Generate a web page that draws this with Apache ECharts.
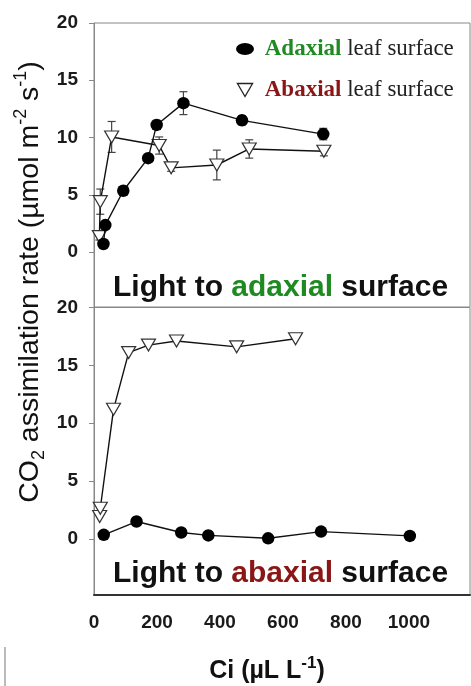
<!DOCTYPE html>
<html>
<head>
<meta charset="utf-8">
<script src="https://cdn.jsdelivr.net/npm/echarts@6/dist/echarts.min.js"></script>
<style>
html,body{margin:0;padding:0;background:#fff;}
#chart{width:471px;height:686px;}
</style>
</head>
<body>
<div id="chart"></div>
<script>
// ---- Data ----
// Top panel: light to adaxial surface
const topAdCi  = [30, 36, 93, 172, 199, 284, 470, 728];
const topAdA   = [0.7, 2.35, 5.35, 8.2, 11.1, 13.0, 11.5, 10.3];
const topAdErr = [0.3, 0.3, 0.3, 0.3, 0.4, 1.0, 0.4, 0.5];

const topAbCi  = [17, 20, 56, 207, 245, 390, 493, 730];
const topAbA   = [1.35, 4.4, 10.05, 9.3, 7.35, 7.6, 9.0, 8.8];
const topAbErr = [0.3, 1.1, 1.35, 0.75, 0.3, 1.3, 0.8, 0.4];

// Bottom panel: light to abaxial surface
const botAbCi = [18, 20, 62, 110, 173, 262, 453, 640];
const botAbA  = [1.93, 2.65, 11.2, 16.1, 16.75, 17.1, 16.6, 17.3];

const botAdCi = [31, 135, 277, 363, 553, 721, 1003];
const botAdA  = [0.35, 1.5, 0.55, 0.3, 0.05, 0.63, 0.26];

const yTicks = [0, 5, 10, 15, 20];
const xTicks = [0, 200, 400, 600, 800, 1000];

const nameAd = 'Adaxial leaf surface';
const nameAb = 'Abaxial leaf surface';

// ---- helpers ----
const zip2 = (a, b) => a.map((v, i) => [v, b[i]]);
const zip3 = (a, b, c) => a.map((v, i) => [v, b[i], c[i]]);

const SANS = 'Liberation Sans, Arial, sans-serif';
const SERIF = 'Liberation Serif, Times New Roman, serif';
const GREEN = '#1f8a22';
const RED = '#8a1616';

function errRender(params, api) {
  const x = api.value(0), y = api.value(1), e = api.value(2);
  const t = api.coord([x, y + e]);
  const b = api.coord([x, y - e]);
  const w = 4;
  const st = { stroke: '#444', lineWidth: 1.2 };
  return {
    type: 'group',
    children: [
      { type: 'line', shape: { x1: t[0], y1: t[1], x2: b[0], y2: b[1] }, style: st },
      { type: 'line', shape: { x1: t[0] - w, y1: t[1], x2: t[0] + w, y2: t[1] }, style: st },
      { type: 'line', shape: { x1: b[0] - w, y1: b[1], x2: b[0] + w, y2: b[1] }, style: st }
    ]
  };
}

const yAxisBase = (gi, min) => ({
  type: 'value', gridIndex: gi, min: min, max: 20,
  axisLine: { show: true, onZero: false, lineStyle: { color: '#888', width: 1 } },
  axisTick: { show: true, inside: false, length: 5, customValues: yTicks, lineStyle: { color: '#888' } },
  axisLabel: { customValues: yTicks, margin: 16, color: '#1a1a1a', fontFamily: SANS, fontWeight: 'bold', fontSize: 19 },
  splitLine: { show: false }
});

const adStyle = {
  symbol: 'circle', symbolSize: 12.5,
  itemStyle: { color: '#000' },
  lineStyle: { color: '#111', width: 1.4 }
};
const abStyle = {
  symbol: 'triangle', symbolRotate: 180, symbolSize: [14, 12],
  itemStyle: { color: '#fff', borderColor: '#333', borderWidth: 1.2 },
  lineStyle: { color: '#111', width: 1.4 }
};

const option = {
  animation: false,
  backgroundColor: '#fff',
  grid: [
    { left: 94, right: 1, top: 23, height: 284, show: true, borderColor: '#888', borderWidth: 1, backgroundColor: 'transparent' },
    { left: 94, right: 1, top: 307.5, height: 287.5, show: true, borderColor: '#888', borderWidth: 1, backgroundColor: 'transparent' }
  ],
  xAxis: [
    { type: 'value', gridIndex: 0, min: 0, max: 1194, show: false, axisLine: { onZero: false } },
    { type: 'value', gridIndex: 1, min: 0, max: 1194,
      axisLine: { show: true, onZero: false, lineStyle: { color: '#333', width: 2 } },
      axisTick: { show: false },
      axisLabel: { customValues: xTicks, margin: 18, color: '#1a1a1a', fontFamily: SANS, fontWeight: 'bold', fontSize: 19,
        formatter: v => String(v) },
      splitLine: { show: false } }
  ],
  yAxis: [ yAxisBase(0, -4.8), yAxisBase(1, -4.85) ],
  legend: {
    left: 236, top: 36, orient: 'vertical', padding: 0, itemGap: 15,
    itemWidth: 18, itemHeight: 13,
    selectedMode: false,
    data: [
      { name: nameAd, icon: 'path://M0,6a9,6 0 1,0 18,0a9,6 0 1,0 -18,0Z', itemStyle: { color: '#000', borderWidth: 0 } },
      { name: nameAb, icon: 'path://M0,0L14,0L7,12Z', itemStyle: { color: '#fff', borderColor: '#222', borderWidth: 1.3 } }
    ],
    formatter: n => n === nameAd ? ' {g|Adaxial} leaf surface' : ' {r|Abaxial} leaf surface',
    textStyle: {
      fontFamily: SERIF, fontSize: 23, color: '#222', lineHeight: 26,
      rich: {
        g: { fontFamily: SERIF, fontSize: 23, fontWeight: 'bold', color: GREEN, lineHeight: 26 },
        r: { fontFamily: SERIF, fontSize: 23, fontWeight: 'bold', color: RED, lineHeight: 26 }
      }
    }
  },
  series: [
    { name: 'errAd', type: 'custom', xAxisIndex: 0, yAxisIndex: 0, renderItem: errRender, encode: { x: 0, y: 1 }, data: zip3(topAdCi, topAdA, topAdErr), z: 2 },
    { name: 'errAb', type: 'custom', xAxisIndex: 0, yAxisIndex: 0, renderItem: errRender, encode: { x: 0, y: 1 }, data: zip3(topAbCi, topAbA, topAbErr), z: 2 },
    Object.assign({ name: nameAb, type: 'line', xAxisIndex: 0, yAxisIndex: 0, data: zip2(topAbCi, topAbA), z: 3 }, abStyle),
    Object.assign({ name: nameAd, type: 'line', xAxisIndex: 0, yAxisIndex: 0, data: zip2(topAdCi, topAdA), z: 4 }, adStyle),
    Object.assign({ name: nameAb, type: 'line', xAxisIndex: 1, yAxisIndex: 1, data: zip2(botAbCi, botAbA), z: 3 }, abStyle),
    Object.assign({ name: nameAd, type: 'line', xAxisIndex: 1, yAxisIndex: 1, data: zip2(botAdCi, botAdA), z: 4 }, adStyle)
  ],
  graphic: [
    { type: 'text', left: 113, top: 273, z: 10,
      style: { text: 'Light to {g|adaxial} surface', font: 'bold 30px ' + SANS, fill: '#111',
        rich: { g: { fill: GREEN, font: 'bold 30px ' + SANS } } } },
    { type: 'text', left: 113, top: 559, z: 10,
      style: { text: 'Light to {r|abaxial} surface', font: 'bold 30px ' + SANS, fill: '#111',
        rich: { r: { fill: RED, font: 'bold 30px ' + SANS } } } },
    { type: 'text', x: 30, y: 282, rotation: Math.PI / 2, z: 10,
      style: { text: 'CO{sub|2} assimilation rate (\u00b5mol m{sup|-2} s{sup|-1})',
        font: '28.5px ' + SANS, fill: '#111', align: 'center', verticalAlign: 'middle', lineHeight: 36,
        rich: {
          sub: { font: '18px ' + SANS, verticalAlign: 'bottom', lineHeight: 36, fill: '#111' },
          sup: { font: '18px ' + SANS, verticalAlign: 'top', lineHeight: 36, fill: '#111' }
        } } },
    { type: 'text', x: 267, y: 671, z: 10,
      style: { text: 'Ci (\u00b5L L{sup|-1})', font: 'bold 25px ' + SANS, fill: '#111', align: 'center', verticalAlign: 'middle', lineHeight: 32,
        rich: { sup: { font: 'bold 17px ' + SANS, verticalAlign: 'top', lineHeight: 32, fill: '#111' } } } },
    { type: 'line', shape: { x1: 5, y1: 647, x2: 5, y2: 686 }, style: { stroke: '#777', lineWidth: 1 } }
  ]
};

const chart = echarts.init(document.getElementById('chart'), null, { renderer: 'canvas' });
chart.setOption(option);
</script>
</body>
</html>
